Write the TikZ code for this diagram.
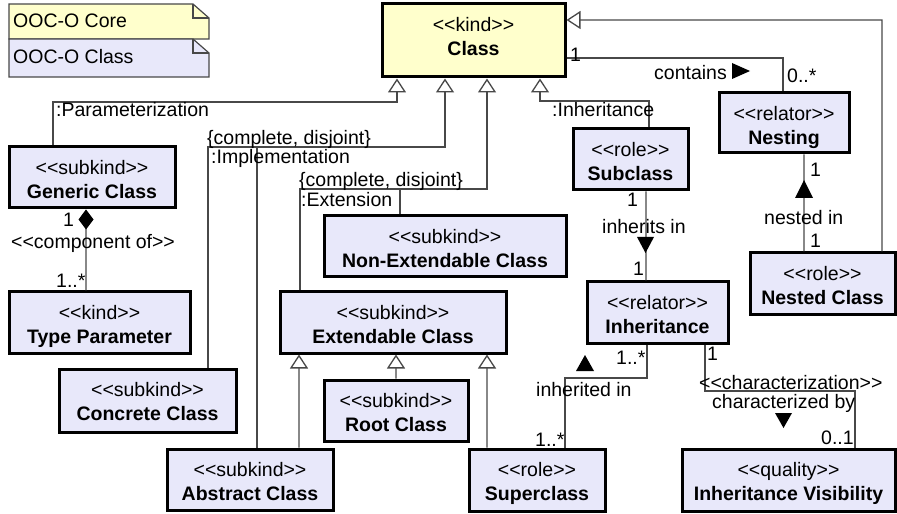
\documentclass[tikz,border=0pt]{standalone}
\usepackage{fontspec}
\setmainfont{Liberation Sans}
\usetikzlibrary{arrows.meta}
\definecolor{coreY}{RGB}{255,255,204}
\definecolor{clsL}{RGB}{232,232,250}
\definecolor{lineG}{RGB}{72,72,72}
\newcommand\fs{\fontsize{19.5bp}{23bp}\selectfont}
\newcommand\stereo[1]{<\kern0pt<#1>\kern0pt>}
\newcommand\umlbox[8]{%
  \node[umlcls, fill=#2, minimum width={(#5-#3)*1bp}, minimum height={(#6-#4)*1bp}]
    (#1) at ({(#3+#5)/2},{(#4+#6)/2}) {};
  \node[txt, anchor=base] (#1-st) at ({(#3+#5)/2},{#4+27.5}) {\stereo{#7}};
  \node[txt, anchor=base, font=\fs\bfseries] (#1-nm) at ({(#3+#5)/2},{#4+51.5}) {#8};
}
\tikzset{
  umlcls/.style={draw=black, line width=3bp, rectangle, inner sep=0pt},
  txt/.style={inner sep=0pt, font=\fs, text=black},
  lbl/.style={txt, anchor=base west},
  conn/.style={draw=lineG, line width=1.3bp},
  gener/.style={conn, -{Triangle[length=14bp, width=18bp, fill=white]}},
  note/.style={draw=lineG, line width=1.2bp},
}
\begin{document}
\begin{tikzpicture}[x=1bp,y=-1bp]
\useasboundingbox (0,0) rectangle (897,514);
% legend
\filldraw[note, fill=coreY] (9,4) -- (193,4) -- (209,18) -- (209,39) -- (9,39) -- cycle;
\draw[note] (193,4) |- (209,18);
\filldraw[note, fill=clsL] (9,39) -- (193,39) -- (209,53) -- (209,77) -- (9,77) -- cycle;
\draw[note] (193,39) |- (209,53);
\node[lbl] (lgcore) at (13,28) {OOC-O Core};
\node[lbl] (lgclass) at (13,64) {OOC-O Class};
% classes
\umlbox{cls}{coreY}{382}{4}{565}{77}{kind}{Class}
\umlbox{gen}{clsL}{9}{147}{175}{208}{subkind}{Generic Class}
\umlbox{tp}{clsL}{9}{292}{190}{353}{kind}{Type Parameter}
\umlbox{conc}{clsL}{59}{369}{236}{432}{subkind}{Concrete Class}
\umlbox{abs}{clsL}{167}{449}{333}{510}{subkind}{Abstract Class}
\umlbox{nonext}{clsL}{324}{216}{566}{277}{subkind}{Non-Extendable Class}
\umlbox{ext}{clsL}{280}{292}{506}{353}{subkind}{Extendable Class}
\umlbox{root}{clsL}{324}{380}{468}{441}{subkind}{Root Class}
\umlbox{sub}{clsL}{573}{129}{688}{190}{role}{Subclass}
\umlbox{nest}{clsL}{719}{93}{849}{153}{relator}{Nesting}
\umlbox{nestc}{clsL}{750}{253}{895}{315}{role}{Nested Class}
\umlbox{inh}{clsL}{587}{282}{728}{343}{relator}{Inheritance}
\umlbox{sup}{clsL}{469}{449}{605}{511}{role}{Superclass}
\umlbox{vis}{clsL}{682}{449}{895}{511}{quality}{Inheritance Visibility}
% generalizations to Class
\draw[gener] ([xshift=-39bp]gen.north) -- ++(0,-43.5) -| ([xshift=-76.5bp]cls.south);
\draw[gener] ([xshift=60.5bp]conc.north) -- ++(0,-220.5) -| ([xshift=-28.5bp]cls.south);
\draw[conn] ([xshift=7bp]abs.north) -- ++(0,-300.5);
\draw[gener] ([xshift=-93bp]ext.north) -- ++(0,-101.5) -| ([xshift=13.5bp]cls.south);
\draw[conn] ([xshift=-45bp]nonext.north) -- ++(0,-25.5);
\draw[gener] ([xshift=18.5bp]sub.north) -- ++(0,-26.5) -| ([xshift=66.5bp]cls.south);
\draw[gener] ([xshift=59.5bp]nestc.north) -- ++(0,-231.5) -- ([yshift=20.5bp]cls.east);
% generalizations to Extendable Class
\draw[gener] ([xshift=49bp]abs.north) -- ([xshift=-94bp]ext.south);
\draw[gener] (root.north) -- ([xshift=3bp]ext.south);
\draw[gener] ([xshift=-50bp]sup.north) -- ([xshift=94bp]ext.south);
% associations
\draw[conn] ([yshift=-17.5bp]cls.east) -| ([xshift=-1bp]nest.north);
\draw[conn] ([xshift=20bp]nest.south) -- ([xshift=-18.5bp]nestc.north);
\draw[conn] ([xshift=15.5bp]sub.south) -- ([xshift=-11.5bp]inh.north);
\draw[conn] ([xshift=-10.5bp]inh.south) -- ++(0,33.5) -| ([xshift=28bp]sup.north);
\draw[conn] ([xshift=47.5bp]inh.south) -- ++(0,46.5) -| ([xshift=66.5bp]vis.north);
\draw[conn, {Diamond[length=20bp, width=15bp, color=black, fill=black]}-] ([xshift=-6bp]gen.south) -- ([xshift=-13.5bp]tp.north);
% reading direction triangles
\fill (732,63) -- (750,71) -- (732,79) -- cycle;
\fill (795,198) -- (804,180) -- (813,198) -- cycle;
\fill (637,237) -- (654,237) -- (645.5,253) -- cycle;
\fill (576,371) -- (585,355) -- (594,371) -- cycle;
\fill (775,413) -- (792,413) -- (783.5,428) -- cycle;
% labels
\node[lbl] (lpar) at (56,117) {:Parameterization};
\node[lbl] (lcd1) at (207,145) {\{complete, disjoint\}};
\node[lbl] (limpl) at (211,164) {:Implementation};
\node[lbl] (lcd2) at (299,187) {\{complete, disjoint\}};
\node[lbl] (lext) at (301,207) {:Extension};
\node[lbl] (linh) at (552,117) {:Inheritance};
\node[lbl] (m1) at (570,62) {1};
\node[lbl] (lcont) at (654,80) {contains};
\node[lbl] (m2) at (787,83) {0..*};
\node[lbl] (m3) at (810,177) {1};
\node[lbl] (lnest) at (764,225) {nested in};
\node[lbl] (m4) at (810,248) {1};
\node[lbl] (m5) at (627,207) {1};
\node[lbl] (linhin) at (602,234) {inherits in};
\node[lbl] (m6) at (633,276) {1};
\node[lbl] (m7) at (616,364) {1..*};
\node[lbl] (linhd) at (536,396) {inherited in};
\node[lbl] (m8) at (535,446) {1..*};
\node[lbl] (m9) at (707,360) {1};
\node[lbl] (lchar) at (699,389) {\stereo{characterization}};
\node[lbl] (lcharby) at (712,408.5) {characterized by};
\node[lbl] (m10) at (821,444) {0..1};
\node[lbl] (m11) at (63,227) {1};
\node[lbl] (lcomp) at (11,249) {\stereo{component of}};
\node[lbl] (m12) at (56,288) {1..*};
\end{tikzpicture}
\end{document}
